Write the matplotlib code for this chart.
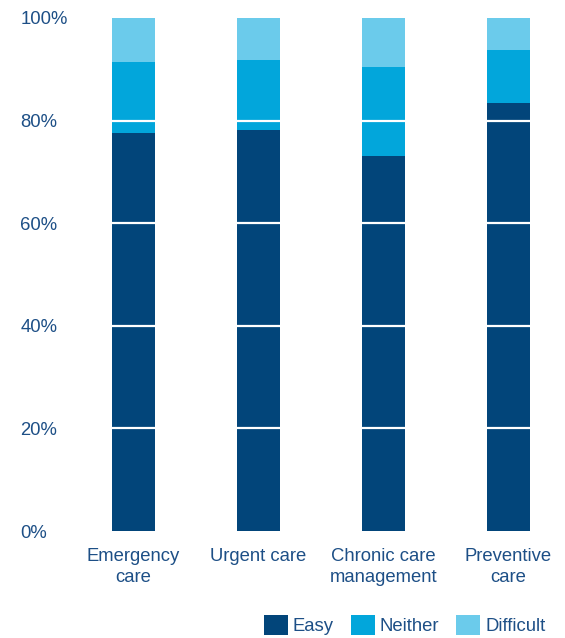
import matplotlib
matplotlib.use("Agg")
import matplotlib.pyplot as plt
from matplotlib.patches import Patch
import numpy as np

plt.rcParams['font.family'] = ['Liberation Sans', 'DejaVu Sans']

categories = ["Emergency\ncare", "Urgent care", "Chronic care\nmanagement", "Preventive\ncare"]
easy = [77.6, 78.2, 73.1, 83.4]
neither = [13.8, 13.6, 17.4, 10.4]
difficult = [8.6, 8.2, 9.5, 6.2]
series_names = ["Easy", "Neither", "Difficult"]
colors = ["#02457A", "#02A6DB", "#6BCBEB"]
yticks = [0, 20, 40, 60, 80, 100]
text_color = "#1D4F86"
fs = 13.3

fig = plt.figure(figsize=(5.65, 6.38), dpi=100)
ax = fig.add_axes([0.1366, 0.1677, 0.8628, 0.8041])

x = np.arange(len(categories))
w = 0.34
bottom = np.zeros(len(categories))
for vals, c in zip([easy, neither, difficult], colors):
    ax.bar(x, vals, w, bottom=bottom, color=c, zorder=2, linewidth=0)
    bottom += np.array(vals)

for t in yticks[1:-1]:
    ax.axhline(t, color="white", lw=1.6, zorder=3)

ax.set_xlim(-0.45, 3.45)
ax.set_ylim(0, 100)
ax.set_yticks(yticks)
ax.set_yticklabels([f"{t}%" for t in yticks])
ax.set_xticks(x)
ax.set_xticklabels(categories, linespacing=1.28)
ax.tick_params(axis='both', length=0, labelsize=fs, colors=text_color)
ax.tick_params(axis='x', pad=12.5)
for lbl in ax.get_yticklabels():
    lbl.set_horizontalalignment('left')
ax.tick_params(axis='y', pad=41)
for s in ax.spines.values():
    s.set_visible(False)

handles = [Patch(facecolor=c, edgecolor='none') for c in colors]
fig.legend(handles, series_names, loc='center left', bbox_to_anchor=(0.467, 0.0204),
           ncol=3, frameon=False, fontsize=fs, labelcolor=text_color,
           handlelength=1.3, handleheight=1.3, handletextpad=0.27,
           columnspacing=0.92, borderpad=0, borderaxespad=0)

fig.savefig("out.png", dpi=100)
